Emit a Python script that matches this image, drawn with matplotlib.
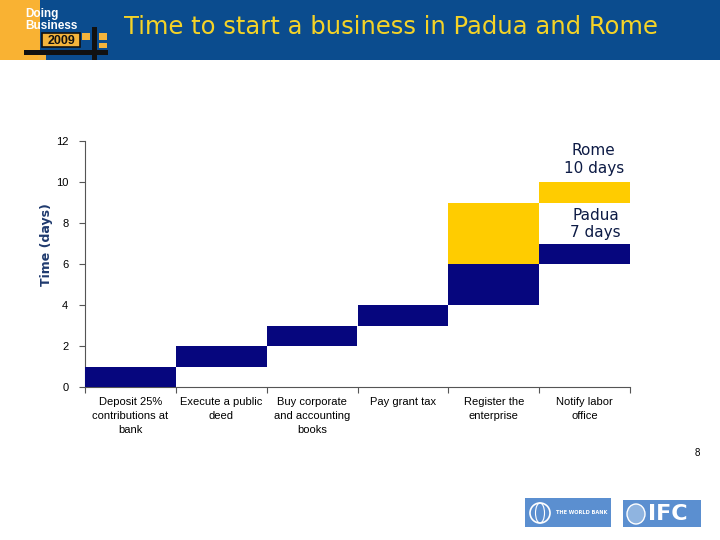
import matplotlib
matplotlib.use("Agg")
import matplotlib.pyplot as plt
from matplotlib.patches import Rectangle, Ellipse

categories = ["Deposit 25%\ncontributions at\nbank", "Execute a public\ndeed",
              "Buy corporate\nand accounting\nbooks", "Pay grant tax",
              "Register the\nenterprise", "Notify labor\noffice"]
padua_start = [0, 1, 2, 3, 4, 6]
padua_days = [1, 1, 1, 1, 2, 1]
rome_start = [0, 1, 2, 3, 4, 9]
rome_days = [1, 1, 1, 1, 5, 1]
yticks = [0, 2, 4, 6, 8, 10, 12]

NAVY = "#06067E"
YELLOW = "#FFCC00"
HEADER = "#0B4C8E"
W, H = 720, 540

fig = plt.figure(figsize=(7.2, 5.4), dpi=100)
fig.patch.set_facecolor("white")


def prect(x0, y0, x1, y1, color, z=1, **kw):
    fig.patches.append(Rectangle((x0 / W, 1 - y1 / H), (x1 - x0) / W, (y1 - y0) / H,
                                 transform=fig.transFigure, facecolor=color,
                                 edgecolor=kw.get("ec", "none"), lw=kw.get("lw", 0), zorder=z))


# header band + logo
prect(0, 0, 720, 60, HEADER, 0)
prect(0, 0, 40, 60, "#F9B233", 1)
prect(42, 33, 80, 47, "#F4B43C", 2, ec="#111111", lw=1.2)
prect(82, 33, 90, 40, "#F4B43C", 2)
prect(99, 33, 107, 40, "#F4B43C", 2)
prect(99, 43, 107, 48, "#F4B43C", 2)
prect(38, 55, 46, 60, "#F4B43C", 2)
prect(24, 50, 108, 55, "#111111", 3)
prect(92, 27, 97, 60, "#111111", 3)
fig.text(25 / W, 1 - 14 / H, "Doing", color="white", fontsize=8.5, fontweight="bold",
         family="Liberation Sans", va="center", ha="left", zorder=4)
fig.text(25 / W, 1 - 26 / H, "Business", color="white", fontsize=8.5, fontweight="bold",
         family="Liberation Sans", va="center", ha="left", zorder=4)
fig.text(61 / W, 1 - 40.5 / H, "2009", color="#111111", fontsize=9, fontweight="bold",
         family="Liberation Sans", va="center", ha="center", zorder=4)
fig.text(391 / W, 1 - 27 / H, "Time to start a business in Padua and Rome", color="#F5D327",
         fontsize=17.5, family="DejaVu Sans", va="center", ha="center", zorder=4)

ax = fig.add_axes([85 / W, 1 - 387 / H, 545 / W, 246 / H])
x = list(range(len(categories)))
ax.bar(x, rome_days, bottom=rome_start, width=1.0, color=YELLOW, align="edge", zorder=2)
ax.bar(x, padua_days, bottom=padua_start, width=1.0, color=NAVY, align="edge", zorder=3)

ax.set_xlim(0, len(categories))
ax.set_ylim(0, 12)
ax.set_yticks(yticks)
ax.set_yticklabels([str(v) for v in yticks], fontsize=8, family="Liberation Sans")
ax.set_xticks(range(len(categories) + 1))
ax.set_xticklabels([])
ax.set_xticks([i + 0.5 for i in x], minor=True)
ax.set_xticklabels(categories, minor=True, fontsize=8, family="Liberation Sans", linespacing=1.5)
ax.tick_params(axis="x", which="minor", length=0, pad=7)
ax.tick_params(axis="x", which="major", length=4, direction="out", color="#555555")
ax.tick_params(axis="y", length=4, direction="out", color="#555555", pad=8)
for s in ["top", "right"]:
    ax.spines[s].set_visible(False)
for s in ["left", "bottom"]:
    ax.spines[s].set_color("#555555")
    ax.spines[s].set_linewidth(0.8)
ax.set_ylabel("Time (days)", color="#1F3A6E", fontsize=9, fontweight="bold",
              family="DejaVu Sans")
ax.yaxis.set_label_coords((53 - 85) / 545, (387 - 245) / 246)

ax.text(5.6, 11.1, "Rome\n10 days", ha="center", va="center", fontsize=11,
        color="#0D1B45", family="DejaVu Sans", linespacing=1.2)
ax.text(5.62, 7.95, "Padua\n7 days", ha="center", va="center", fontsize=11,
        color="#0D1B45", family="DejaVu Sans", linespacing=1.2)

fig.text(697 / W, 1 - 453 / H, "8", fontsize=7, ha="center", va="center", family="Liberation Sans")

# footer logos
prect(525, 498, 611, 527, "#5B8FD0", 1)
fig.patches.append(Ellipse((540 / W, 1 - 513 / H), 20 / W, 20 / H, transform=fig.transFigure,
                           facecolor="none", edgecolor="white", lw=1.2, zorder=2))
fig.patches.append(Ellipse((540 / W, 1 - 513 / H), 9 / W, 20 / H, transform=fig.transFigure,
                           facecolor="none", edgecolor="white", lw=0.8, zorder=2))
fig.text(556 / W, 1 - 513 / H, "THE WORLD BANK", color="white", fontsize=3.6,
         fontweight="bold", ha="left", va="center")
prect(623, 500, 701, 527, "#5B8FD0", 1)
fig.patches.append(Ellipse((636 / W, 1 - 514 / H), 18 / W, 20 / H, transform=fig.transFigure,
                           facecolor="#8FB4E0", edgecolor="white", lw=1.0, zorder=2))
fig.text(668 / W, 1 - 514 / H, "IFC", color="white", fontsize=16,
         fontweight="bold", ha="center", va="center")

fig.savefig("out.png", dpi=100)
